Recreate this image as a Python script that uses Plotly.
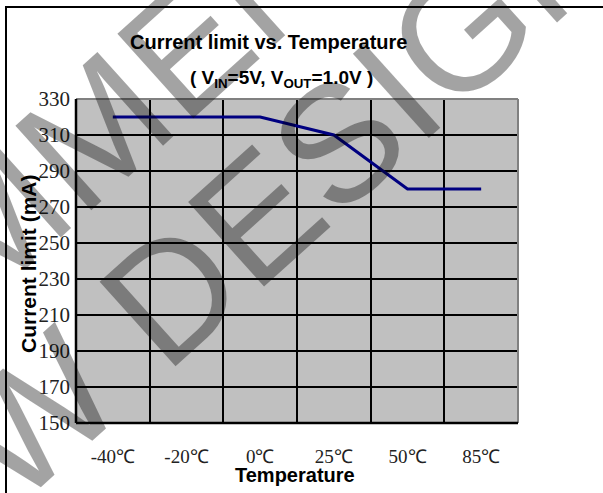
import plotly.graph_objects as go

temperatures = ["-40℃", "-20℃", "0℃", "25℃", "50℃", "85℃"]
current_limit_mA = [320, 320, 320, 310, 280, 280]
y_ticks = [150, 170, 190, 210, 230, 250, 270, 290, 310, 330]

W, H = 603, 493
L, R, T, B = 76, 518, 99, 423  # plot area in pixels


def px(xp):
    return (xp - L) / (R - L)


def py(yp):
    return (B - yp) / (B - T)


fig = go.Figure()
fig.add_trace(go.Scatter(
    x=temperatures, y=current_limit_mA, mode="lines",
    line=dict(color="#000080", width=3), showlegend=False,
))

serif = "Liberation Serif, Times New Roman, serif"
sans = "Liberation Sans, Arial, sans-serif"

fig.update_layout(
    width=W, height=H,
    margin=dict(l=L, r=W - R, t=T, b=H - B),
    paper_bgcolor="white", plot_bgcolor="#C0C0C0",
    xaxis=dict(
        type="category", range=[-0.5, 5.5], tickson="boundaries",
        showgrid=True, gridcolor="black", gridwidth=1.5,
        ticks="", showline=False, zeroline=False,
        tickfont=dict(family=serif, size=19, color="#222"),
        ticklabelstandoff=20,
    ),
    yaxis=dict(
        range=[150, 330], tickvals=y_ticks,
        showgrid=True, gridcolor="black", gridwidth=1.5,
        ticks="", showline=False, zeroline=False,
        tickfont=dict(family=serif, size=21, color="#222"),
        ticklabelstandoff=5,
    ),
)

shapes = [
    dict(type="line", xref="paper", yref="paper", x0=0, x1=1, y0=1, y1=1,
         line=dict(color="#808080", width=2)),
    dict(type="line", xref="paper", yref="paper", x0=1, x1=1, y0=0, y1=1,
         line=dict(color="#808080", width=2)),
    dict(type="line", xref="paper", yref="paper", x0=0, x1=0, y0=0, y1=1,
         line=dict(color="black", width=2.5)),
    dict(type="line", xref="paper", yref="paper", x0=0, x1=1, y0=0, y1=0,
         line=dict(color="black", width=2.5)),
    dict(type="rect", xref="paper", yref="paper",
         x0=px(6), x1=px(640), y0=py(7), y1=py(540),
         line=dict(color="black", width=2)),
]
fig.update_layout(shapes=shapes)

annotations = [
    dict(text="<b>Current limit vs. Temperature</b>", x=px(268), y=py(42),
         font=dict(family=sans, size=20, color="black")),
    dict(text="<b>( V<sub>IN</sub>=5V, V<sub>OUT</sub>=1.0V )</b>", x=px(281), y=py(79),
         font=dict(family=sans, size=19, color="black")),
    dict(text="<b>Current limit (mA)</b>", x=px(28), y=py(264), textangle=-90,
         font=dict(family=sans, size=21, color="black")),
    dict(text="<b>Temperature</b>", x=px(295), y=py(475),
         font=dict(family=sans, size=20, color="black")),
    dict(text="NOT RECOMMENDED", x=px(-65), y=py(274), textangle=-42,
         font=dict(family=sans, size=165, color="rgba(0,0,0,0.36)")),
    dict(text="FOR NEW DESIGN", x=px(56), y=py(397), textangle=-42,
         font=dict(family=sans, size=165, color="rgba(0,0,0,0.36)")),
]
for a in annotations:
    a.update(xref="paper", yref="paper", showarrow=False,
             xanchor="center", yanchor="middle")
fig.update_layout(annotations=annotations)

fig.write_html("out.html", config={"displayModeBar": False},
               post_script="document.body.style.margin='0';")
